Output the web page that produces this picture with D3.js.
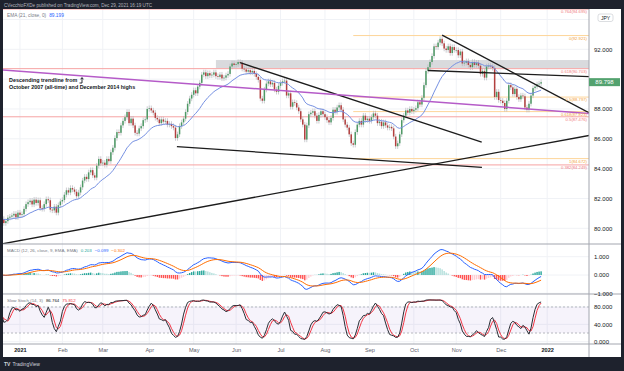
<!DOCTYPE html>
<html>
<head>
<meta charset="UTF-8">
<title>CAD/JPY Daily</title>
<script src="https://d3js.org/d3.v7.min.js"></script>
<style>
  body { margin: 0; padding: 0; background: #1e222d; }
  svg { display: block; font-family: 'Liberation Sans', Arial, sans-serif; }
</style>
</head>
<body>
<svg id="chart" width="624" height="371"></svg>
<script>
// daily closes, one per weekday starting 2020-12-21
const startDate = "2020-12-21";
const closes = [
  // Dec 2020
  80.62, 80.35, 80.48, 80.71, 80.78, 80.86, 80.97, 80.74, 81.05,
  // Jan
  80.90, 80.95, 81.30, 81.62, 81.75, 81.85, 81.60, 81.92, 81.70, 81.88, 81.35,
  81.30, 81.62, 81.95, 81.88, 81.25, 81.20, 81.45, 81.05, 81.55, 81.80,
  // Feb
  81.90, 82.25, 82.55, 82.40, 82.70, 82.60, 82.45, 82.15, 82.40, 82.75,
  83.20, 83.45, 83.30, 83.75, 83.90, 83.55, 83.40, 84.20, 84.65, 84.35,
  // Mar
  84.40, 84.25, 84.65, 84.50, 85.10, 85.40, 86.05, 86.45, 86.40, 86.90, 87.20, 87.45,
  87.80, 87.05, 87.35, 86.90, 86.40, 86.35, 86.70, 86.85, 87.25, 87.30, 88.00,
  // Apr
  88.05, 87.90, 87.75, 87.40, 87.30, 87.05, 87.30, 87.15, 87.20, 86.95, 87.00,
  86.85, 86.75, 86.05, 86.30, 86.85, 87.10, 87.35, 87.80, 88.35, 88.70, 88.95,
  // May
  89.25, 89.05, 89.50, 89.75, 90.30, 90.45, 90.20, 90.40, 90.25, 90.30, 90.45,
  90.20, 90.15, 90.30, 90.05, 90.10, 90.25, 90.35, 90.85, 91.05, 90.95,
  // Jun
  91.00, 91.15, 91.10, 90.70, 90.65, 90.50, 90.60, 90.45, 90.55, 90.35, 90.15,
  89.95, 88.70, 88.55, 89.30, 89.70, 89.85, 89.65, 89.75, 89.30, 89.15, 89.55,
  // Jul
  89.75, 89.85, 89.90, 88.90, 89.05, 88.15, 88.45, 88.40, 88.10, 87.85, 87.30,
  86.95, 85.95, 86.90, 87.65, 87.75, 87.85, 87.55, 87.20, 87.60, 87.85, 87.65,
  // Aug
  87.45, 87.25, 87.10, 87.40, 87.95, 87.80, 88.10, 88.25, 87.95, 87.30, 86.95,
  86.75, 86.30, 85.70, 85.60, 86.45, 86.95, 87.20, 86.95, 87.55, 87.25, 87.35,
  // Sep
  87.20, 87.45, 87.70, 87.55, 87.05, 87.15, 86.85, 87.10, 86.90, 86.75, 86.80,
  86.70, 86.15, 85.50, 85.70, 86.30, 87.25, 87.55, 87.90, 87.75, 88.00, 87.85,
  // Oct
  87.95, 88.05, 88.45, 88.30, 88.75, 89.60, 90.55, 90.80, 91.15, 91.55, 92.20,
  92.15, 92.45, 92.70, 92.40, 92.05, 91.95, 92.20, 91.75, 92.15, 91.95,
  // Nov
  91.95, 91.60, 91.85, 91.05, 91.10, 91.20, 90.95, 90.80, 91.15, 90.95, 91.10,
  90.90, 90.35, 90.55, 90.10, 90.85, 90.90, 90.85, 90.75, 88.80, 89.15, 88.60,
  // Dec
  88.55, 88.40, 88.00, 88.55, 89.60, 89.45, 89.00, 89.35, 88.80, 88.65, 88.90,
  88.85, 88.10, 87.95, 88.35, 88.90, 89.40, 89.50, 89.65, 89.70, 89.798
];
const wickSize = 0.18;

const monthLabels = ["2021", "Feb", "Mar", "Apr", "May", "Jun", "Jul", "Aug", "Sep", "Oct", "Nov", "Dec", "2022"];
const priceGrid = [80, 82, 84, 86, 88, 90, 92, 94];
const priceTicks = [80, 82, 84, 86, 88, 92];   // 90 and 94 sit under the price tag / currency badge
const macdTicks = [-1, 0, 1];
const stochTicks = [0, 40, 80];

// fibonacci levels
const redFibRatios = ["0.382", "0.5", "0.618", "0.764"];
const redFibPrices = [84.249, 87.476, 90.703, 94.695];
const orangeFibRatios = ["0", "0.5", "0.618", "1"];
const orangeFibPrices = [92.921, 88.797, 87.823, 84.672];
const orangeFibStart = 174;

// resistance zone [start bar, low, high]
const zone = [106, 90.73, 91.28];

// trendlines as [bar, price] pairs
const blackLines = [
  [[118, 91.10], [237.6, 85.77]],
  [[218, 92.95], [291, 87.73]],
  [[211, 90.58], [291, 90.16]],
  [[86.7, 85.48], [237.7, 84.08]],
  [[0, 78.95], [291, 86.23]]
];
const purpleLine = [[0, 90.62], [291, 87.70]];

const legendValues = { ema: "89.199", hist: "0.203", macd: "\u22120.099", signal: "\u22120.302", k: "86.764", d: "75.812" };

// ---- layout ----
const left = 3, plotRight = 589, axisRight = 621;
const mainTop = 9, mainBottom = 244, macdBottom = 294, stochBottom = 344, xAxisBottom = 357;

const svg = d3.select("#chart");

// weekday calendar for the bars
const dates = [];
let d = new Date(startDate + "T00:00:00Z");
while (dates.length < closes.length + 5) {
  const wd = d.getUTCDay();
  if (wd !== 0 && wd !== 6) dates.push(new Date(d));
  d = new Date(d.getTime() + 86400000);
}
const monthStarts = [];
dates.forEach((dt, i) => {
  if (i > 0 && dt.getUTCMonth() !== dates[i - 1].getUTCMonth()) monthStarts.push(i);
});

const x = d3.scaleLinear().domain([0, closes.length - 1]).range([1.8, 541.1]);
const yMain = d3.scaleLinear().domain([80, 92]).range([228.3, 49.3]);
const yMacd = d3.scaleLinear().domain([-1, 1]).range([293.3, 256.7]);
const yStoch = d3.scaleLinear().domain([0, 100]).range([341.7, 298.3]);

// ---- indicators ----
function ema(arr, n) {
  const k = 2 / (n + 1), out = [];
  arr.forEach((v, i) => out.push(i === 0 ? v : v * k + out[i - 1] * (1 - k)));
  return out;
}
function sma(arr, n) {
  return arr.map((v, i) => d3.mean(arr.slice(Math.max(0, i - n + 1), i + 1)));
}
const bars = closes.map((c, i) => {
  const o = i === 0 ? c - 0.1 : closes[i - 1];
  return { i: i, o: o, c: c, h: Math.max(o, c) + wickSize, l: Math.min(o, c) - wickSize };
});
const ema21 = ema(closes, 21);
const ema12 = ema(closes, 12), ema26 = ema(closes, 26);
const macd = closes.map((c, i) => ema12[i] - ema26[i]);
const signal = ema(macd, 9);
const hist = macd.map((m, i) => m - signal[i]);
const fastK = bars.map((b, i) => {
  const w = bars.slice(Math.max(0, i - 13), i + 1);
  const hh = d3.max(w, e => e.h), ll = d3.min(w, e => e.l);
  return 100 * (b.c - ll) / (hh - ll);
});
const slowK = sma(fastK, 3);
const slowD = sma(slowK, 3);

// ---- frame ----
svg.append("rect").attr("x", 0).attr("y", 0).attr("width", 624).attr("height", 371).attr("fill", "#1e222d");
svg.append("rect").attr("x", left).attr("y", mainTop).attr("width", axisRight - left).attr("height", xAxisBottom - mainTop).attr("fill", "#ffffff");

svg.append("text").attr("x", 4).attr("y", 6.5).attr("fill", "#b2b5be").style("font-size", "4.6px")
  .text("CVecchioFXDe published on TradingView.com, Dec 29, 2021 16:19 UTC");

// clip paths
const defs = svg.append("defs");
[["clipMain", mainTop, mainBottom], ["clipMacd", mainBottom, macdBottom], ["clipStoch", macdBottom, stochBottom]]
  .forEach(p => {
    defs.append("clipPath").attr("id", p[0]).append("rect")
      .attr("x", left).attr("y", p[1]).attr("width", plotRight - left).attr("height", p[2] - p[1]);
  });

// grid
const grid = svg.append("g").attr("stroke", "#f0f2f6").attr("stroke-width", 1);
monthStarts.forEach(i => {
  grid.append("line").attr("x1", x(i)).attr("x2", x(i)).attr("y1", mainTop).attr("y2", stochBottom);
});
priceGrid.forEach(p => grid.append("line").attr("x1", left).attr("x2", plotRight).attr("y1", yMain(p)).attr("y2", yMain(p)));
macdTicks.forEach(p => grid.append("line").attr("x1", left).attr("x2", plotRight).attr("y1", yMacd(p)).attr("y2", yMacd(p)));
stochTicks.forEach(p => grid.append("line").attr("x1", left).attr("x2", plotRight).attr("y1", yStoch(p)).attr("y2", yStoch(p)));

// ---- main pane ----
const main = svg.append("g").attr("clip-path", "url(#clipMain)");

main.append("rect")
  .attr("x", x(zone[0])).attr("width", plotRight - x(zone[0]))
  .attr("y", yMain(zone[2])).attr("height", yMain(zone[1]) - yMain(zone[2]))
  .attr("fill", "#d9dadd");

redFibPrices.forEach(p => {
  main.append("line").attr("x1", left).attr("x2", plotRight).attr("y1", yMain(p)).attr("y2", yMain(p))
    .attr("stroke", "#f6a3a3").attr("stroke-width", 1);
});
orangeFibPrices.forEach(p => {
  main.append("line").attr("x1", x(orangeFibStart)).attr("x2", plotRight).attr("y1", yMain(p)).attr("y2", yMain(p))
    .attr("stroke", "#fdd59a").attr("stroke-width", 1);
});

const candle = main.append("g");
candle.selectAll(".wick").data(bars).join("line")
  .attr("x1", b => x(b.i)).attr("x2", b => x(b.i))
  .attr("y1", b => yMain(b.h)).attr("y2", b => yMain(b.l))
  .attr("stroke", "#b4b6bc").attr("stroke-width", 0.7);
candle.selectAll(".body").data(bars).join("rect")
  .attr("x", b => x(b.i) - 0.75).attr("width", 1.5)
  .attr("y", b => yMain(Math.max(b.o, b.c)))
  .attr("height", b => Math.max(0.6, Math.abs(yMain(b.o) - yMain(b.c))))
  .attr("fill", b => b.c >= b.o ? "#4f9a66" : "#b3403f");

main.append("path").datum(ema21)
  .attr("d", d3.line().x((v, i) => x(i)).y(v => yMain(v)))
  .attr("fill", "none").attr("stroke", "#7590e2").attr("stroke-width", 1);

blackLines.forEach(l => {
  main.append("line")
    .attr("x1", x(l[0][0])).attr("y1", yMain(l[0][1]))
    .attr("x2", x(l[1][0])).attr("y2", yMain(l[1][1]))
    .attr("stroke", "#1c1c1c").attr("stroke-width", 1.3);
});
main.append("line")
  .attr("x1", x(purpleLine[0][0])).attr("y1", yMain(purpleLine[0][1]))
  .attr("x2", x(purpleLine[1][0])).attr("y2", yMain(purpleLine[1][1]))
  .attr("stroke", "#b55bc8").attr("stroke-width", 1.5);

// fib labels
const fibLabels = svg.append("g").style("font-size", "4.2px").attr("text-anchor", "end");
redFibPrices.forEach((p, k) => {
  fibLabels.append("text").attr("x", 587).attr("y", yMain(p) + 4.2)
    .attr("fill", "#f07b7e").text(redFibRatios[k] + "(" + p.toFixed(3) + ")");
});
orangeFibPrices.forEach((p, k) => {
  fibLabels.append("text").attr("x", 587).attr("y", yMain(p) + 4.2)
    .attr("fill", "#f2a23a").text(orangeFibRatios[k] + "(" + p.toFixed(3) + ")");
});

// annotation
const note = svg.append("g").attr("fill", "#131722").style("font-size", "5.4px").style("font-weight", "bold");
note.append("text").attr("x", 9).attr("y", 81.5).text("Descending trendline from");
note.append("text").attr("x", 9).attr("y", 88.5).text("October 2007 (all-time) and December 2014 highs");
svg.append("path").attr("d", "M79.5,83 L82,83 L82,77.8 M80.6,79.3 L82,77.6 L83.4,79.3")
  .attr("fill", "none").attr("stroke", "#131722").attr("stroke-width", 0.9);

// legend
const lg = svg.append("text").attr("x", 7).attr("y", 17).style("font-size", "4.8px");
lg.append("tspan").attr("fill", "#787b86").text("EMA (21, close, 0)");
lg.append("tspan").attr("dx", 3).attr("fill", "#2962ff").text(legendValues.ema);

// ---- MACD pane ----
const mp = svg.append("g").attr("clip-path", "url(#clipMacd)");
mp.selectAll("rect").data(hist).join("rect")
  .attr("x", (v, i) => x(i) - 0.7).attr("width", 1.4)
  .attr("y", v => Math.min(yMacd(v), yMacd(0)))
  .attr("height", v => Math.abs(yMacd(v) - yMacd(0)))
  .attr("fill", (v, i) => {
    const prev = i > 0 ? hist[i - 1] : v;
    if (v >= 0) return v >= prev ? "#26a69a" : "#b2dfdb";
    return v < prev ? "#ff5252" : "#ffcdd2";
  });
mp.append("path").datum(macd)
  .attr("d", d3.line().x((v, i) => x(i)).y(v => yMacd(v)))
  .attr("fill", "none").attr("stroke", "#2962ff").attr("stroke-width", 1);
mp.append("path").datum(signal)
  .attr("d", d3.line().x((v, i) => x(i)).y(v => yMacd(v)))
  .attr("fill", "none").attr("stroke", "#ff6d00").attr("stroke-width", 1);

const ml = svg.append("text").attr("x", 7).attr("y", 252).style("font-size", "4.4px");
ml.append("tspan").attr("fill", "#787b86").text("MACD (12, 26, close, 9, EMA, EMA)");
ml.append("tspan").attr("dx", 3).attr("fill", "#26a69a").text(legendValues.hist);
ml.append("tspan").attr("dx", 3).attr("fill", "#2962ff").text(legendValues.macd);
ml.append("tspan").attr("dx", 3).attr("fill", "#ff6d00").text(legendValues.signal);

// ---- Stoch pane ----
const sp = svg.append("g").attr("clip-path", "url(#clipStoch)");
sp.append("rect").attr("x", left).attr("width", plotRight - left)
  .attr("y", yStoch(80)).attr("height", yStoch(20) - yStoch(80)).attr("fill", "rgba(126, 87, 194, 0.07)");
[80, 20].forEach(v => {
  sp.append("line").attr("x1", left).attr("x2", plotRight).attr("y1", yStoch(v)).attr("y2", yStoch(v))
    .attr("stroke", "#a5a8b0").attr("stroke-dasharray", "2,2").attr("stroke-width", 0.8);
});
sp.append("path").datum(slowD)
  .attr("d", d3.line().x((v, i) => x(i)).y(v => yStoch(v)))
  .attr("fill", "none").attr("stroke", "#f23645").attr("stroke-width", 1);
sp.append("path").datum(slowK)
  .attr("d", d3.line().x((v, i) => x(i)).y(v => yStoch(v)))
  .attr("fill", "none").attr("stroke", "#2a2d35").attr("stroke-width", 1);

const sl = svg.append("text").attr("x", 7).attr("y", 301.8).style("font-size", "4.4px");
sl.append("tspan").attr("fill", "#787b86").text("Slow Stoch (14, 3)");
sl.append("tspan").attr("dx", 3).attr("fill", "#131722").text(legendValues.k);
sl.append("tspan").attr("dx", 3).attr("fill", "#f23645").text(legendValues.d);

// ---- separators ----
const sep = svg.append("g").attr("stroke", "#a3a6af").attr("stroke-width", 1);
[mainBottom, macdBottom, stochBottom].forEach(v => sep.append("line").attr("x1", left).attr("x2", axisRight).attr("y1", v).attr("y2", v));
sep.append("line").attr("x1", plotRight).attr("x2", plotRight).attr("y1", mainTop).attr("y2", xAxisBottom);

// ---- axes ----
function styleAxis(g) {
  g.select(".domain").remove();
  g.selectAll("text").attr("fill", "#131722").style("font-size", "6px").attr("text-anchor", "start");
}
svg.append("g").attr("transform", `translate(${plotRight},0)`)
  .call(d3.axisRight(yMain).tickValues(priceTicks).tickSize(0).tickPadding(5).tickFormat(d3.format(".3f")))
  .call(styleAxis);
svg.append("g").attr("transform", `translate(${plotRight},0)`)
  .call(d3.axisRight(yMacd).tickValues(macdTicks).tickSize(0).tickPadding(5).tickFormat(v => d3.format(".3f")(v).replace("-", "\u2212")))
  .call(styleAxis);
svg.append("g").attr("transform", `translate(${plotRight},0)`)
  .call(d3.axisRight(yStoch).tickValues(stochTicks).tickSize(0).tickPadding(5).tickFormat(d3.format(".3f")))
  .call(styleAxis);

const xAxis = svg.append("g").attr("transform", `translate(0,${stochBottom})`)
  .call(d3.axisBottom(x).tickValues(monthStarts).tickSize(0).tickPadding(4)
    .tickFormat((v, k) => monthLabels[k]));
xAxis.select(".domain").remove();
xAxis.selectAll("text").style("font-size", "5.6px")
  .attr("fill", (v, k) => monthLabels[k].length === 4 ? "#131722" : "#5d606b")
  .style("font-weight", (v, k) => monthLabels[k].length === 4 ? "bold" : "normal");

// last price tag and currency badge
const last = closes[closes.length - 1];
svg.append("rect").attr("x", plotRight).attr("y", yMain(last) - 4).attr("width", 31).attr("height", 8).attr("fill", "#53a26f");
svg.append("text").attr("x", plotRight + 15.5).attr("y", yMain(last) + 2).attr("text-anchor", "middle")
  .attr("fill", "#ffffff").style("font-size", "6px").text(d3.format(".3f")(last));
svg.append("rect").attr("x", 598).attr("y", 14).attr("width", 15).attr("height", 7.5).attr("rx", 2)
  .attr("fill", "#ffffff").attr("stroke", "#c5c7cc").attr("stroke-width", 0.6);
svg.append("text").attr("x", 605.5).attr("y", 19.6).attr("text-anchor", "middle")
  .attr("fill", "#131722").style("font-size", "5px").text("JPY");

// footer
const ft = svg.append("text").attr("x", 4).attr("y", 366).attr("fill", "#d1d4dc").style("font-size", "5px");
ft.append("tspan").style("font-weight", "bold").text("TV");
ft.append("tspan").attr("dx", 2).text("TradingView");
</script>
</body>
</html>
